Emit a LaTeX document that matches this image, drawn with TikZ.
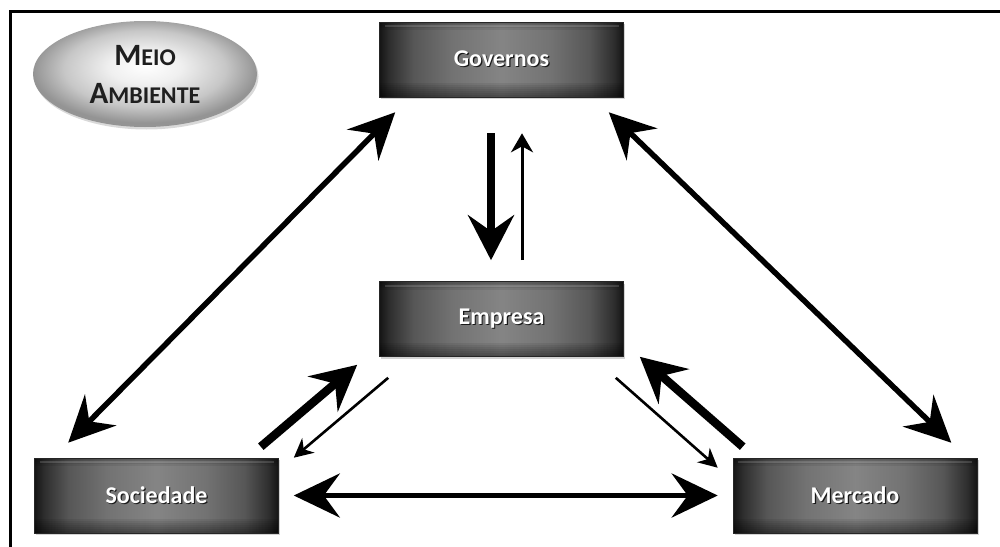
\documentclass[tikz,border=0pt]{standalone}
\usepackage{fontspec}
\setmainfont{Carlito}
\usetikzlibrary{arrows.meta,calc,shapes.geometric,shadows}

% dark panel: grey middle fading to near black at the left and right ends
\pgfdeclarehorizontalshading{panel}{100bp}{%
  color(0bp)=(black!92); color(25bp)=(black!92); color(27bp)=(black!82);
  color(32bp)=(black!66); color(40bp)=(black!55); color(50bp)=(black!48);
  color(60bp)=(black!55); color(68bp)=(black!66); color(73bp)=(black!82);
  color(75bp)=(black!92); color(100bp)=(black!92)}

% soft grey badge
\pgfdeclareradialshading{badge}{\pgfpoint{0bp}{4bp}}{%
  color(0bp)=(white); color(8bp)=(black!6); color(18bp)=(black!22);
  color(25bp)=(black!42); color(50bp)=(black!45)}

% white label with a soft dark shadow behind it
\newcommand\boxlabel[1]{\makebox[0pt][l]{\raisebox{-1.2pt}{\hspace{1.2pt}\color{black!90}#1}}#1}

\begin{document}
\begin{tikzpicture}[x=1pt,y=-1pt,
  actor/.style={rectangle, minimum width=244, minimum height=75, inner sep=0,
    shading=panel, draw=black!85, line width=0.6,
    drop shadow={shadow xshift=1.5pt, shadow yshift=-2pt, opacity=0.35},
    path picture={
      % darker towards the bottom and the top edge
      \foreach \k in {1,...,7}
        \fill[black, opacity=0.07]
          (path picture bounding box.south west) rectangle
          ([yshift=2*\k pt]path picture bounding box.south east);
      \foreach \k in {1,...,4}
        \fill[black, opacity=0.07]
          (path picture bounding box.north west) rectangle
          ([yshift=-2*\k pt]path picture bounding box.north east);
      % faint gloss line under the top edge
      \draw[white, opacity=0.15, line width=2]
        ([xshift=5pt,yshift=-4pt]path picture bounding box.north west) --
        ([xshift=-5pt,yshift=-4pt]path picture bounding box.north east);
    },
    text=white, font=\fontsize{24}{28}\selectfont\bfseries},
  envnode/.style={ellipse, minimum width=224, minimum height=106, inner sep=0,
    shading=badge, align=center,
    drop shadow={shadow xshift=1.5pt, shadow yshift=-2.5pt, opacity=0.3},
    text=black!88, font=\fontsize{31}{38}\selectfont\bfseries},
  dbl/.style={line width=5.5, {Stealth[length=46, width=44, inset=16]}-{Stealth[length=46, width=44, inset=16]}},
  fat/.style={line width=8.5, -{Stealth[length=45, width=46, inset=16]}},
  slim/.style={line width=2.6, -{Stealth[length=19, width=19, inset=6]}},
  slimv/.style={line width=3, -{Stealth[length=19, width=22, inset=6]}},
  frame/.style={line width=3, line cap=rect}
]
\useasboundingbox (0,0) rectangle (1000,546);

% frame
\draw[frame] (10,546) -- (10,11) -- (1000,11);

% actors
\node[actor] (gov) at (501.5,59.5) {\boxlabel{Governos}};
\node[actor] (emp) at (501.5,319) {\boxlabel{Empresa}};
\node[actor] (soc) at (156.5,495.5) {\boxlabel{Sociedade}};
\node[actor] (mer) at (855,495.5) {\boxlabel{Mercado}};

% environment badge
\node[envnode] (env) at (145,74)
  {M{\fontsize{24}{38}\selectfont EIO}\\A{\fontsize{24}{38}\selectfont MBIENTE}};

% outer triangle
\draw[dbl] ($(soc.north west)+(34,-15)$) -- ($(gov.south west)+(16,15)$);
\draw[dbl] ($(gov.south east)+(-15,15)$) -- ($(mer.north east)+(-26,-15)$);
\draw[dbl] ($(soc.east)+(15,0)$) -- ($(mer.west)+(-15,0)$);

% government and company
\draw[fat]   ($(gov.south)+(-10.5,36)$) -- ($(emp.north)+(-10.5,-21)$);
\draw[slimv] ($(emp.north)+(20.5,-21)$) -- ($(gov.south)+(20.5,36)$);

% society and company
\draw[fat]  ($(soc.north east)+(-18,-11)$) -- ($(emp.south west)+(-22,8)$);
\draw[slim] ($(emp.south west)+(9,21)$) -- ($(soc.north east)+(15,0)$);

% market and company
\draw[fat]  ($(mer.north west)+(10,-11)$) -- ($(emp.south east)+(16,0)$);
\draw[slim] ($(emp.south east)+(-8,21)$) -- ($(mer.north west)+(-15,10)$);
\end{tikzpicture}
\end{document}
